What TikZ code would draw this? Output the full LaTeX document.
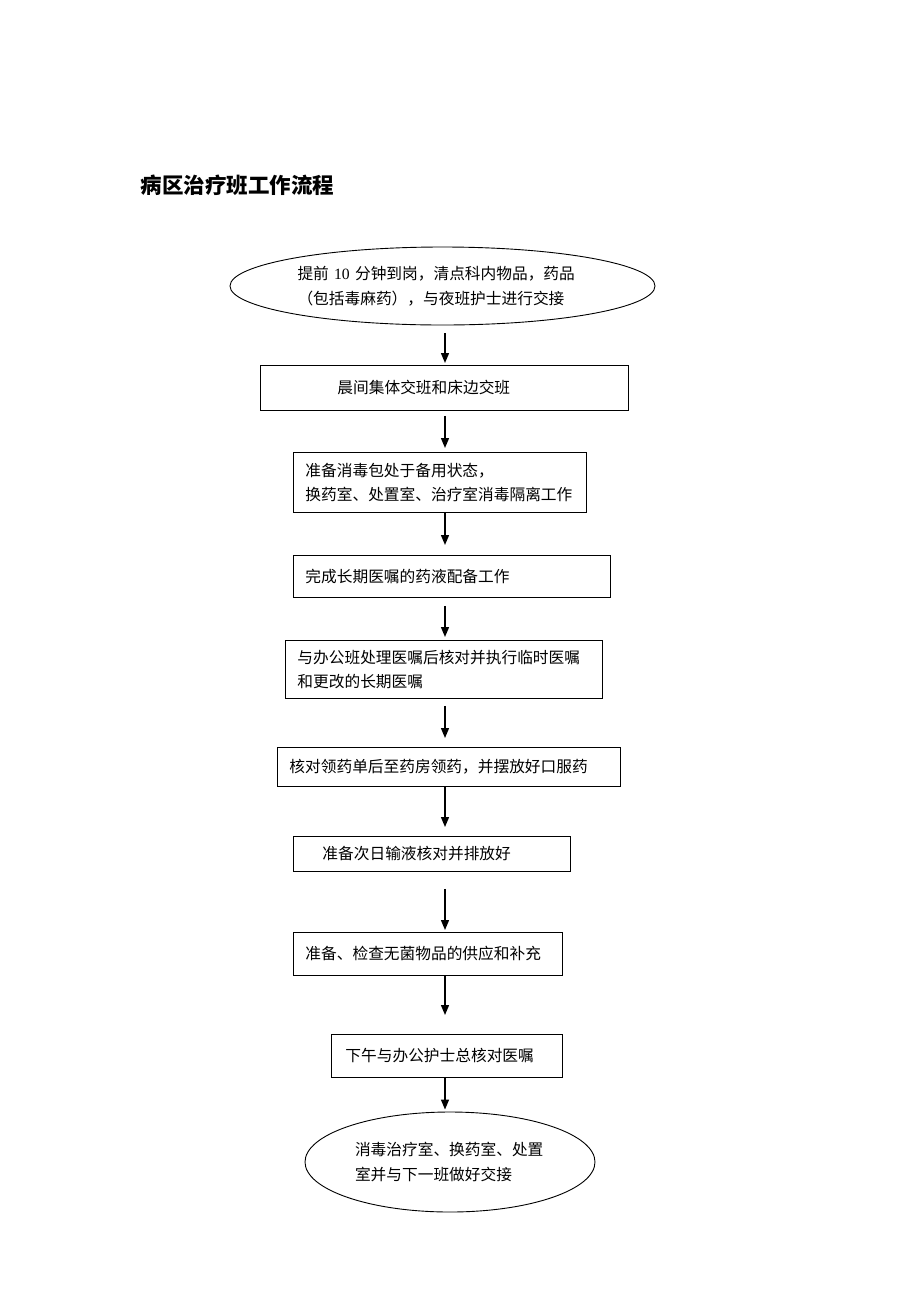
\documentclass[tikz,border=0pt]{standalone}
\usepackage{fontspec}
\setmainfont{Liberation Serif}
\newfontfamily\cjk{Noto Sans CJK SC}
\usetikzlibrary{shapes.geometric,arrows.meta}

\tikzset{
  stepbox/.style={draw, line width=0.9pt, anchor=north west, inner xsep=0pt, inner ysep=2pt,
    align=left, font=\cjk\fontsize{15.7}{24.5}\selectfont},
  pad/.style={execute at begin node={\leftskip=#1pt}},
  endcap/.style={draw, ellipse, line width=0.9pt, inner sep=0pt, align=left,
    font=\cjk\fontsize{15.7}{24.5}\selectfont},
  arr/.style={-{Triangle[width=8pt,length=10pt]}, line width=1.4pt},
}

\begin{document}
\begin{tikzpicture}[x=1pt, y=-1pt]
  \useasboundingbox (0,0) rectangle (920,1302);

  \node[anchor=west, font=\cjk\bfseries\fontsize{21.5}{26}\selectfont] (title) at (137,185) {病区治疗班工作流程};

  \node[endcap, minimum width=425pt, minimum height=78pt, text width=290pt] (start) at (442.5,286)
    {提前 {\rmfamily 10} 分钟到岗，清点科内物品，药品\\（包括毒麻药），与夜班护士进行交接};

  \node[stepbox, text width=368pt, minimum height=45pt, pad=77] (b2) at (260,365) {晨间集体交班和床边交班};
  \node[stepbox, text width=293pt, minimum height=60pt, pad=12] (b3) at (293,452)
    {准备消毒包处于备用状态，\\换药室、处置室、治疗室消毒隔离工作};
  \node[stepbox, text width=317pt, minimum height=42pt, pad=12] (b4) at (293,555) {完成长期医嘱的药液配备工作};
  \node[stepbox, text width=317pt, minimum height=58pt, pad=12] (b5) at (285,640)
    {与办公班处理医嘱后核对并执行临时医嘱\\和更改的长期医嘱};
  \node[stepbox, text width=343pt, minimum height=39pt, pad=12] (b6) at (277,747) {核对领药单后至药房领药，并摆放好口服药};
  \node[stepbox, text width=277pt, minimum height=35pt, pad=29] (b7) at (293,836) {准备次日输液核对并排放好};
  \node[stepbox, text width=269pt, minimum height=43pt, pad=12] (b8) at (293,932) {准备、检查无菌物品的供应和补充};
  \node[stepbox, text width=231pt, minimum height=43pt, pad=14] (b9) at (331,1034) {下午与办公护士总核对医嘱};

  \node[endcap, minimum width=290pt, minimum height=100pt, text width=190pt] (finish) at (450,1162)
    {消毒治疗室、换药室、处置\\室并与下一班做好交接};

  \coordinate (spine) at (445,0);

  \draw[arr, shorten <=8pt, shorten >=2pt] (start.south -| spine) -- (b2.north -| spine);
  \draw[arr, shorten <=5pt, shorten >=4pt] (b2.south -| spine) -- (b3.north -| spine);
  \draw[arr, shorten >=10pt] (b3.south -| spine) -- (b4.north -| spine);
  \draw[arr, shorten <=8pt, shorten >=3pt] (b4.south -| spine) -- (b5.north -| spine);
  \draw[arr, shorten <=7pt, shorten >=9pt] (b5.south -| spine) -- (b6.north -| spine);
  \draw[arr, shorten >=9pt] (b6.south -| spine) -- (b7.north -| spine);
  \draw[arr, shorten <=17pt, shorten >=2pt] (b7.south -| spine) -- (b8.north -| spine);
  \draw[arr, shorten >=19pt] (b8.south -| spine) -- (b9.north -| spine);
  \draw[arr, shorten >=2pt] (b9.south -| spine) -- (finish.north -| spine);
\end{tikzpicture}
\end{document}
